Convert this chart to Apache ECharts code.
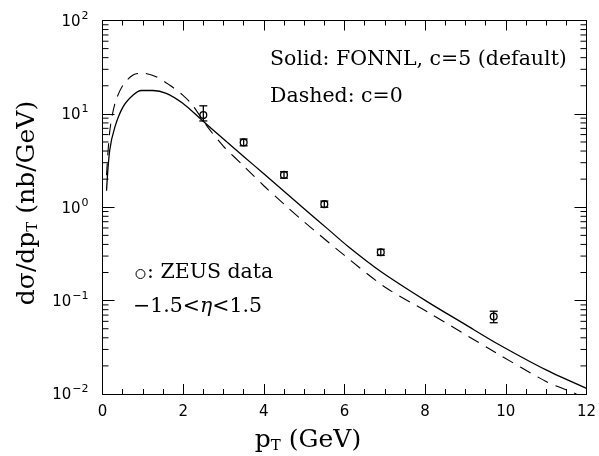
<!DOCTYPE html>
<html>
<head>
<meta charset="utf-8">
<script src="https://cdn.jsdelivr.net/npm/echarts@6/dist/echarts.min.js"></script>
<style>
  html, body { margin: 0; padding: 0; background: #fff; }
  #chart { width: 599px; height: 456px; }
</style>
</head>
<body>
<div id="chart"></div>
<script>
// FONLL curves, [pT, dsigma/dpT]
const solidCurve = [
  [0.1, 1.5], [0.18, 4.1], [0.31, 7.3], [0.51, 11.9], [0.76, 15.9], [0.96, 17.8],
  [1.25, 17.8], [1.58, 16.6], [1.99, 13.0], [2.4, 9.1], [3.0, 5.37], [3.5, 3.5],
  [4.0, 2.28], [4.5, 1.48], [5.0, 0.966], [5.59, 0.583], [6.09, 0.38], [6.9, 0.205],
  [8.05, 0.0975], [9.0, 0.0553], [9.77, 0.035], [11.0, 0.0181], [12.0, 0.0115]
];
const dashedCurve = [
  [0.1, 2.2], [0.18, 6.5], [0.31, 13.0], [0.51, 20.4], [0.76, 26.1], [1.0, 27.2],
  [1.33, 25.0], [1.66, 20.4], [1.99, 15.9], [2.23, 12.4], [2.6, 7.3], [3.0, 4.5],
  [3.5, 2.77], [4.0, 1.70], [4.5, 1.08], [5.0, 0.696], [6.0, 0.305], [7.0, 0.140],
  [8.05, 0.076], [9.77, 0.0274], [11.0, 0.0136], [11.4, 0.0115], [11.75, 0.0100]
];

// ZEUS data points with error bars
const zeusX = [2.5, 3.5, 4.5, 5.5, 6.9, 9.7];
const zeusY = [9.7, 4.95, 2.22, 1.08, 0.33, 0.0675];
const zeusLo = [8.4, 4.55, 2.05, 1.0, 0.305, 0.058];
const zeusHi = [12.2, 5.38, 2.40, 1.165, 0.355, 0.077];

// log axis: decades and minor ticks (2..9 x 10^n)
const yMin = 0.01, yMax = 100;
const minorTicks = [];
for (let e = -2; e < 2; e++) {
  for (let m = 2; m <= 9; m++) minorTicks.push([0, m * Math.pow(10, e)]);
}

const zeusData = zeusX.map((x, i) => [x, zeusY[i], zeusLo[i], zeusHi[i]]);

const serif = '"DejaVu Serif", serif';
const sans = '"DejaVu Sans", sans-serif';

const chart = echarts.init(document.getElementById('chart'));

const xAxisBase = {
  type: 'value',
  min: 0,
  max: 12,
  interval: 2,
  gridIndex: 0,
  splitLine: { show: false },
  axisLine: { onZero: false, lineStyle: { color: '#000', width: 1 } },
  axisTick: { inside: true, length: 10, lineStyle: { color: '#000' } },
  minorTick: { show: true, splitNumber: 4, length: 5, lineStyle: { color: '#000' } }
};
const yAxisBase = {
  type: 'log',
  logBase: 10,
  min: yMin,
  max: yMax,
  gridIndex: 0,
  splitLine: { show: false },
  axisLine: { onZero: false, lineStyle: { color: '#000', width: 1 } },
  axisTick: { inside: true, length: 12, lineStyle: { color: '#000' } }
};

chart.setOption({
  animation: false,
  backgroundColor: '#fff',
  grid: { left: 102.5, right: 8.5, top: 20.5, bottom: 62 },
  xAxis: [
    Object.assign({}, xAxisBase, {
      position: 'bottom',
      axisLabel: { color: '#000', fontFamily: sans, fontSize: 15, margin: 11 }
    }),
    Object.assign({}, xAxisBase, { position: 'top', axisLabel: { show: false } })
  ],
  yAxis: [
    Object.assign({}, yAxisBase, {
      position: 'left',
      axisLabel: {
        color: '#000',
        margin: 14,
        formatter: function (v) {
          const e = Math.round(Math.log10(v));
          return '{b|10}{s|' + (e < 0 ? '\u2212' + (-e) : e) + '}';
        },
        rich: {
          b: { fontFamily: sans, fontSize: 15, color: '#000', padding: [3, 0, 0, 0] },
          s: { fontFamily: sans, fontSize: 11, color: '#000', padding: [0, 0, 9, 1] }
        }
      }
    }),
    Object.assign({}, yAxisBase, { position: 'right', axisLabel: { show: false } })
  ],
  series: [
    {
      name: 'Solid',
      type: 'line',
      data: solidCurve,
      smooth: 0.3,
      showSymbol: false,
      lineStyle: { color: '#000', width: 1.3 }
    },
    {
      name: 'Dashed',
      type: 'line',
      data: dashedCurve,
      smooth: 0.3,
      showSymbol: false,
      lineStyle: { color: '#000', width: 1.1, type: [12, 8] }
    },
    {
      name: 'minor',
      type: 'custom',
      data: minorTicks,
      silent: true,
      renderItem: function (params, api) {
        const cs = params.coordSys;
        const p = api.coord([0, api.value(1)]);
        const st = { stroke: '#000', lineWidth: 1 };
        return {
          type: 'group',
          children: [
            { type: 'line', shape: { x1: cs.x, y1: p[1], x2: cs.x + 6, y2: p[1] }, style: st },
            { type: 'line', shape: { x1: cs.x + cs.width - 6, y1: p[1], x2: cs.x + cs.width, y2: p[1] }, style: st }
          ]
        };
      }
    },
    {
      name: 'ZEUS',
      type: 'custom',
      data: zeusData,
      z: 5,
      renderItem: function (params, api) {
        const x = api.value(0);
        const c = api.coord([x, api.value(1)]);
        const lo = api.coord([x, api.value(2)]);
        const hi = api.coord([x, api.value(3)]);
        const st = { stroke: '#000', lineWidth: 1.3, fill: null };
        const hw = 4;
        return {
          type: 'group',
          children: [
            { type: 'line', shape: { x1: c[0], y1: lo[1], x2: c[0], y2: hi[1] }, style: st },
            { type: 'line', shape: { x1: c[0] - hw, y1: lo[1], x2: c[0] + hw, y2: lo[1] }, style: st },
            { type: 'line', shape: { x1: c[0] - hw, y1: hi[1], x2: c[0] + hw, y2: hi[1] }, style: st },
            { type: 'circle', shape: { cx: c[0], cy: c[1], r: 3.4 }, style: st }
          ]
        };
      }
    }
  ],
  graphic: [
    {
      type: 'text', x: 270, y: 60,
      style: { text: 'Solid: FONNL, c=5 (default)', font: '20.5px ' + serif, fill: '#000', verticalAlign: 'middle' }
    },
    {
      type: 'text', x: 270, y: 97,
      style: { text: 'Dashed: c=0', font: '20.5px ' + serif, fill: '#000', verticalAlign: 'middle' }
    },
    {
      type: 'circle', shape: { cx: 140.5, cy: 274, r: 4.5 },
      style: { stroke: '#000', lineWidth: 1, fill: null }
    },
    {
      type: 'text', x: 147, y: 273,
      style: { text: ': ZEUS data', font: '20.5px ' + serif, fill: '#000', verticalAlign: 'middle' }
    },
    {
      type: 'text', x: 133, y: 307,
      style: {
        text: '{a|\u22121.5<}{i|\u03b7}{a|<1.5}',
        verticalAlign: 'middle',
        rich: {
          a: { fontFamily: serif, fontSize: 20.5, fill: '#000' },
          i: { fontFamily: serif, fontSize: 20.5, fontStyle: 'italic', fill: '#000' }
        }
      }
    },
    {
      type: 'text', x: 308, y: 440,
      style: {
        text: '{a|p}{t|T}{a| (GeV)}',
        align: 'center',
        verticalAlign: 'middle',
        rich: {
          a: { fontFamily: serif, fontSize: 25, fill: '#000' },
          t: { fontFamily: serif, fontSize: 15, fill: '#000', padding: [12, 0, 0, 0] }
        }
      }
    },
    {
      type: 'text', x: 27, y: 203, rotation: Math.PI / 2,
      style: {
        text: '{a|d\u03c3/dp}{t|T}{a| (nb/GeV)}',
        align: 'center',
        verticalAlign: 'middle',
        rich: {
          a: { fontFamily: serif, fontSize: 25, fill: '#000' },
          t: { fontFamily: serif, fontSize: 15, fill: '#000', padding: [12, 0, 0, 0] }
        }
      }
    }
  ]
});
</script>
</body>
</html>
